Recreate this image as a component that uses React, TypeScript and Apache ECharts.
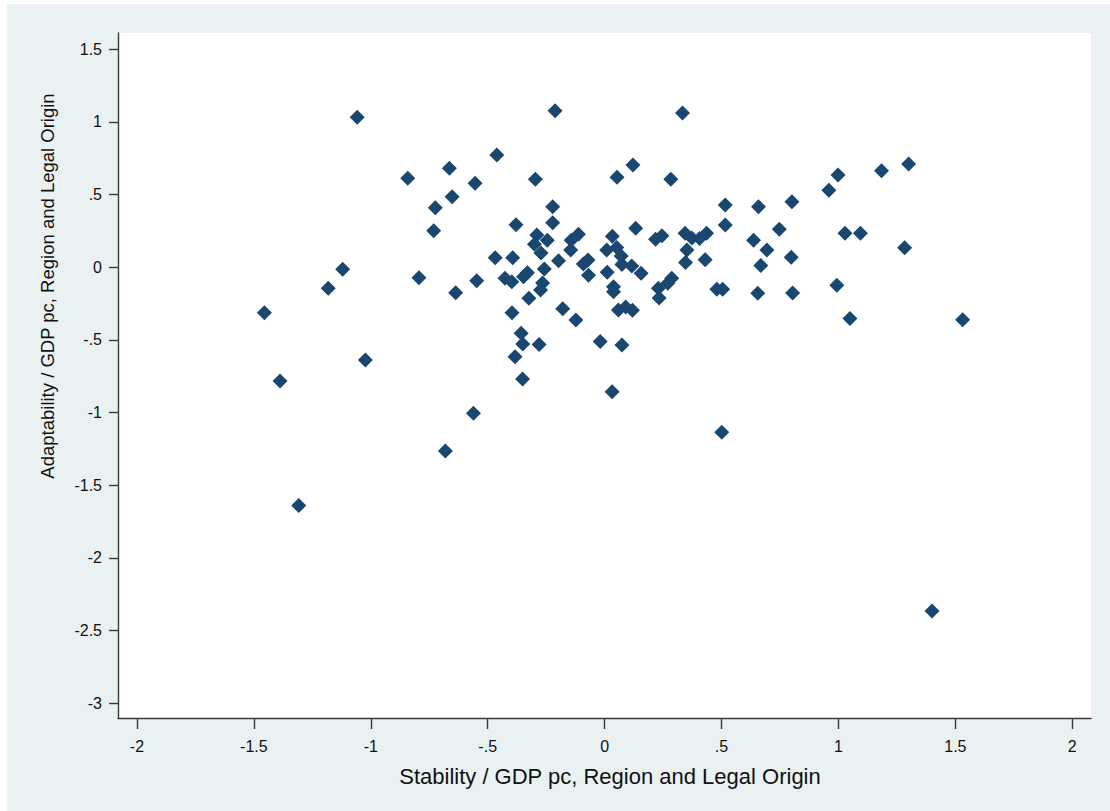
import React, { useEffect, useRef } from "react";
import * as echarts from "echarts";

const stability: number[] = [
  -1.058, -0.212, 0.333, -0.461, -0.664, -0.842, -0.554, -0.296, 0.053, 0.121,
  0.283, -0.652, -0.724, -0.731, -0.222, -0.379, -0.222, -1.12, -1.182, -0.794,
  -1.455, -0.637, -0.547, -1.023, -1.388, -0.561, -0.681, -1.308, -0.468, -0.393,
  -0.426, -0.397, -0.347, -0.33, -0.324, -0.396, -0.357, -0.35, -0.28, -0.383,
  -0.351, -0.29, -0.245, -0.3, -0.272, -0.258, -0.265, -0.274, -0.197, -0.112,
  -0.143, -0.145, -0.091, -0.071, -0.069, -0.179, -0.123, -0.019, 0.074, 0.032,
  0.501, 0.033, 0.009, 0.052, 0.071, 0.011, 0.074, 0.116, 0.156, 0.038,
  0.038, 0.059, 0.09, 0.119, 0.133, 0.218, 0.245, 0.344, 0.373, 0.406,
  0.436, 0.352, 0.43, 0.346, 0.287, 0.27, 0.23, 0.233, 0.48, 0.505,
  0.516, 0.516, 0.658, 0.801, 0.747, 0.637, 0.694, 0.668, 0.798, 0.655,
  0.804, 1.3, 1.184, 0.998, 0.959, 1.028, 1.094, 1.283, 0.993, 1.049,
  1.531, 1.4,
];

const adaptability: number[] = [
  1.032, 1.077, 1.061, 0.772, 0.681, 0.612, 0.577, 0.605, 0.619, 0.703,
  0.605, 0.485, 0.41, 0.251, 0.416, 0.292, 0.306, -0.014, -0.145, -0.072,
  -0.313, -0.176, -0.093, -0.639, -0.783, -1.006, -1.265, -1.641, 0.065, 0.065,
  -0.076, -0.1, -0.065, -0.038, -0.214, -0.313, -0.455, -0.529, -0.532, -0.616,
  -0.769, 0.222, 0.185, 0.158, 0.098, -0.012, -0.109, -0.157, 0.044, 0.227,
  0.185, 0.118, 0.022, 0.05, -0.056, -0.286, -0.363, -0.511, -0.535, -0.857,
  -1.136, 0.213, 0.118, 0.136, 0.077, -0.035, 0.019, 0.008, -0.042, -0.134,
  -0.169, -0.295, -0.274, -0.297, 0.268, 0.193, 0.217, 0.233, 0.201, 0.198,
  0.233, 0.118, 0.052, 0.032, -0.076, -0.111, -0.145, -0.212, -0.151, -0.151,
  0.428, 0.29, 0.416, 0.451, 0.261, 0.185, 0.118, 0.012, 0.068, -0.18,
  -0.178, 0.71, 0.664, 0.635, 0.529, 0.233, 0.233, 0.134, -0.125, -0.354,
  -0.361, -2.366,
];

const xTicks: number[] = [-2, -1.5, -1, -0.5, 0, 0.5, 1, 1.5, 2];
const yTicks: number[] = [-3, -2.5, -2, -1.5, -1, -0.5, 0, 0.5, 1, 1.5];

const xTitle = "Stability / GDP pc, Region and Legal Origin";
const yTitle = "Adaptability / GDP pc, Region and Legal Origin";

const fmt = (v: number): string => {
  if (Math.abs(v) < 1e-9) return "0";
  return String(v).replace(/^(-?)0\./, "$1.");
};

const FONT = "'Liberation Sans', Arial, Helvetica, sans-serif";

export default function App() {
  const ref = useRef<HTMLDivElement>(null);

  useEffect(() => {
    if (!ref.current) return;
    const chart = echarts.init(ref.current, undefined, { renderer: "svg" });
    const data = stability.map((x, i) => [x, adaptability[i]]);
    chart.setOption({
      animation: false,
      backgroundColor: "#e9f1f3",
      textStyle: { fontFamily: FONT },
      grid: {
        left: 111,
        top: 29,
        width: 973,
        height: 685,
        show: true,
        backgroundColor: "#ffffff",
        borderWidth: 0,
        containLabel: false,
      },
      xAxis: {
        type: "value",
        min: -2.081,
        max: 2.08,
        axisLine: { show: true, onZero: false, lineStyle: { color: "#3a3a3a", width: 1.4 } },
        axisTick: {
          show: true,
          customValues: xTicks,
          length: 11,
          lineStyle: { color: "#3a3a3a", width: 1.4 },
        },
        axisLabel: {
          customValues: xTicks,
          formatter: fmt,
          fontSize: 16,
          color: "#111",
          margin: 20,
          fontFamily: FONT,
        },
        splitLine: { show: false },
      },
      yAxis: {
        type: "value",
        min: -3.103,
        max: 1.612,
        axisLine: { show: true, onZero: false, lineStyle: { color: "#3a3a3a", width: 1.4 } },
        axisTick: {
          show: true,
          customValues: yTicks,
          length: 9,
          lineStyle: { color: "#3a3a3a", width: 1.4 },
        },
        axisLabel: {
          customValues: yTicks,
          formatter: fmt,
          fontSize: 16,
          color: "#111",
          margin: 16,
          fontFamily: FONT,
        },
        splitLine: { show: false },
      },
      graphic: [
        {
          type: "text",
          x: 603,
          y: 772,
          style: {
            text: xTitle,
            fontSize: 22,
            fontFamily: FONT,
            fill: "#111",
            textAlign: "center",
            textVerticalAlign: "middle",
          },
        },
        {
          type: "text",
          x: 40,
          y: 282,
          rotation: Math.PI / 2,
          style: {
            text: yTitle,
            fontSize: 18.5,
            fontFamily: FONT,
            fill: "#111",
            textAlign: "center",
            textVerticalAlign: "middle",
          },
        },
      ],
      series: [
        {
          type: "scatter",
          data,
          symbol: "diamond",
          symbolSize: 15,
          silent: true,
          itemStyle: { color: "#1a476f", opacity: 1 },
          emphasis: { disabled: true },
        },
      ],
    });
    return () => chart.dispose();
  }, []);

  return (
    <div
      style={{
        position: "fixed",
        left: 0,
        top: 0,
        width: 1110,
        height: 811,
        background: "#ffffff",
      }}
    >
      <div
        ref={ref}
        style={{ position: "absolute", left: 7, top: 4, width: 1103, height: 807 }}
      />
    </div>
  );
}
